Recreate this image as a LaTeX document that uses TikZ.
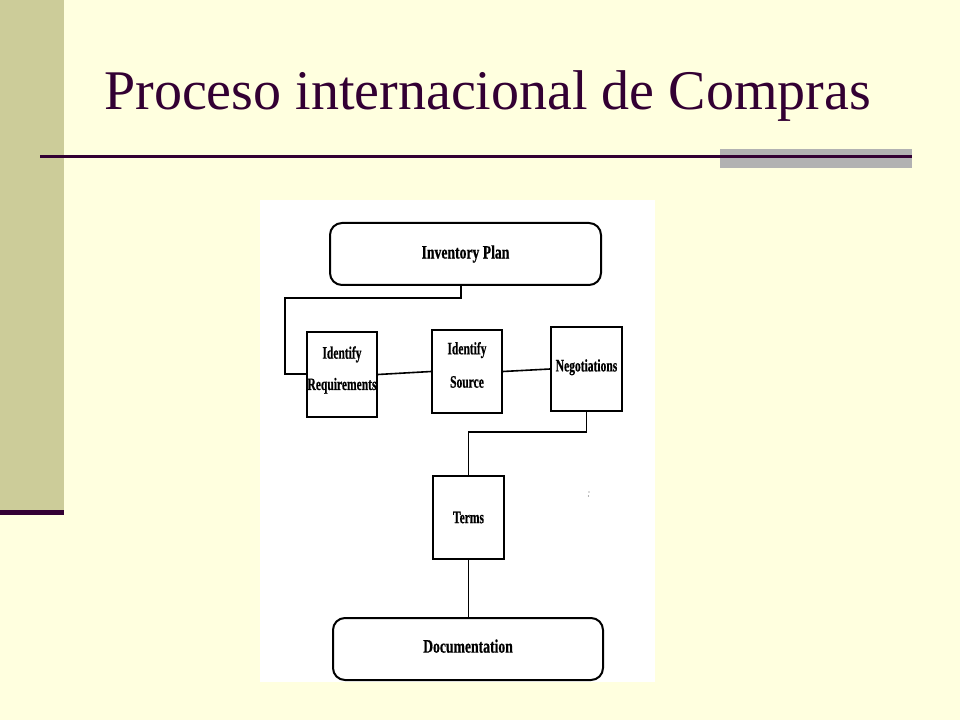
\documentclass[tikz,border=0pt]{standalone}
\usepackage{fontspec}
\setmainfont{Liberation Serif}
\newfontfamily\bigdiag[FakeStretch=0.72,FakeBold=0.6]{Liberation Serif}
\newfontfamily\smalldiag[FakeStretch=0.66,FakeBold=0.6]{Liberation Serif}
\definecolor{slidebg}{HTML}{FFFFDF}
\definecolor{sidebar}{HTML}{CCCC99}
\definecolor{darkplum}{HTML}{330033}
\definecolor{graybar}{HTML}{B2B2B2}
\tikzset{
  roundbox/.style={draw=black, line width=1.5pt, rounded corners=9pt, fill=white,
    font=\bigdiag\bfseries\fontsize{14.25pt}{17pt}\selectfont},
  sqbox/.style={draw=black, line width=1.4pt, fill=white, align=center, inner sep=0pt,
    font=\smalldiag\bfseries\fontsize{13.1pt}{23.5pt}\selectfont},
  conn/.style={draw=black, line width=1.2pt}
}
\begin{document}
\begin{tikzpicture}[x=0.75pt,y=-0.75pt]
  % background and slide decoration
  \fill[slidebg] (0,0) rectangle (960,720);
  \useasboundingbox (0,0) rectangle (960,720);
  \fill[sidebar] (0,0) rectangle (64,510);
  \fill[darkplum] (0,510) rectangle (64,514.5);
  \fill[graybar] (720,149) rectangle (912,168);
  \fill[darkplum] (40,155.5) rectangle (912,158.5);
  \node[anchor=base west, inner sep=0pt, text=darkplum,
        font=\fontsize{42pt}{50pt}\selectfont] (title) at (104,110) {Proceso internacional de Compras};
  % white picture panel
  \fill[white] (260,200) rectangle (655,682);
  % nodes
  \node[roundbox, minimum width=203.25pt, minimum height=46.5pt] (ip) at (465.5,254) {Inventory Plan};
  \node[sqbox, minimum width=52.5pt, minimum height=63.75pt, text depth=9.5pt] (req) at (342,374.5) {Identify\\Requirements};
  \node[sqbox, minimum width=52.5pt, minimum height=62.25pt, text depth=10pt] (src) at (467,371.5) {Identify\\[1.5pt]Source};
  \node[sqbox, minimum width=53.25pt, minimum height=63pt, text depth=5.5pt] (neg) at (586.5,369) {Negotiations};
  \node[sqbox, minimum width=53.25pt, minimum height=62.25pt] (terms) at (468.5,517.5) {Terms};
  \node[roundbox, minimum width=202.5pt, minimum height=46.5pt, text depth=4.5pt] (doc) at (468,649) {Documentation};
  % connectors
  \coordinate (k1) at (461,298);
  \coordinate (k2) at (285,374);
  \draw[conn] (ip.south -| k1) -- (k1) -| (k2) -- (k2 -| req.west);
  \draw[conn] (req.east) -- (src.west);
  \draw[conn] (src.east) -- (neg.west);
  \coordinate (k3) at (468.5,432);
  \draw[conn] (neg.south) |- (k3) -- (terms.north);
  \draw[conn] (terms.south) -- (terms.south |- doc.north);
  % scan speck
  \fill[black!60] (589,492) circle (0.6);
  \fill[black!60] (588.5,496) circle (0.6);
\end{tikzpicture}
\end{document}
